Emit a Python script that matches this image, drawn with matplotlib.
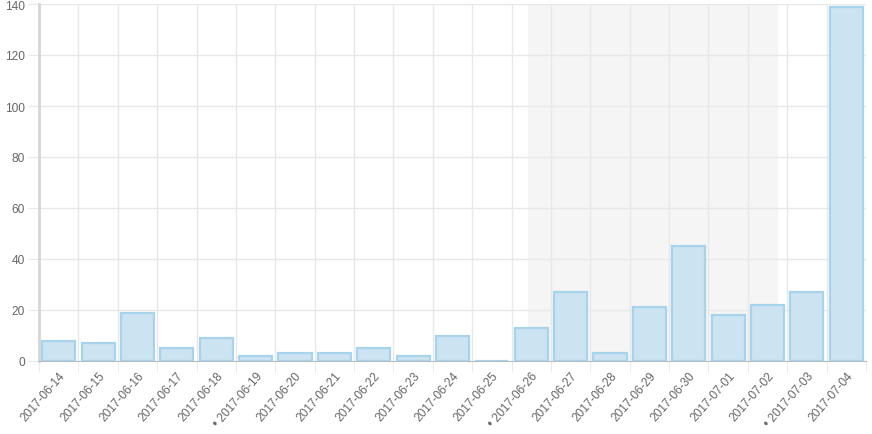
import numpy as np
import matplotlib.pyplot as plt

plt.rcParams['font.family'] = ['Liberation Sans', 'DejaVu Sans']

# daily counts
dates = ['2017-06-14', '2017-06-15', '2017-06-16', '2017-06-17', '2017-06-18',
         '2017-06-19', '2017-06-20', '2017-06-21', '2017-06-22', '2017-06-23',
         '2017-06-24', '2017-06-25', '2017-06-26', '2017-06-27', '2017-06-28',
         '2017-06-29', '2017-06-30', '2017-07-01', '2017-07-02', '2017-07-03',
         '2017-07-04']
counts = [8, 7, 19, 5, 9, 2, 3, 3, 5, 2, 10, 0, 13, 27, 3, 21, 45, 18, 22, 27, 139]
mondays = ['2017-06-19', '2017-06-26', '2017-07-03']
# highlighted span (category units)
span_start, span_end = 11.91, 18.26

labels = ['• ' + d if d in mondays else d for d in dates]
x = np.arange(len(dates))

fig = plt.figure(figsize=(8.72, 4.35), dpi=100)
ax = fig.add_axes([39 / 872, 73 / 435, 827 / 872, 357 / 435])

ax.axvspan(span_start, span_end, color='#f5f5f5', zorder=0, lw=0)
ax.bar(x, counts, width=0.84, color='#cce3f1', edgecolor='#a8d3ec', linewidth=1.6, zorder=3)

ax.set_xlim(-0.5, len(dates) - 0.5)
ax.set_ylim(0, 140)
ax.set_yticks(range(0, 141, 20))
ax.set_xticks(x)
ax.set_xticklabels(labels, rotation=49, ha='right', rotation_mode='anchor')

# grid on category boundaries
ax.set_xticks(np.arange(-0.5, len(dates), 1), minor=True)
ax.grid(which='minor', axis='x', color='#e8e8e8', lw=1, zorder=1)
ax.grid(which='major', axis='y', color='#e8e8e8', lw=1, zorder=1)
ax.tick_params(axis='x', which='major', length=0, pad=6, labelsize=8.6, labelcolor='#666666')
ax.tick_params(axis='x', which='minor', length=8, color='#e8e8e8')
ax.tick_params(axis='y', length=8, color='#e8e8e8', labelsize=8.6, labelcolor='#666666', pad=2)

for s in ['top', 'right']:
    ax.spines[s].set_visible(False)
ax.spines['left'].set_color('#d6d6d6')
ax.spines['left'].set_linewidth(2)
ax.spines['bottom'].set_color('#bbbbbb')
ax.set_axisbelow(True)

fig.savefig('out.png', dpi=100)
